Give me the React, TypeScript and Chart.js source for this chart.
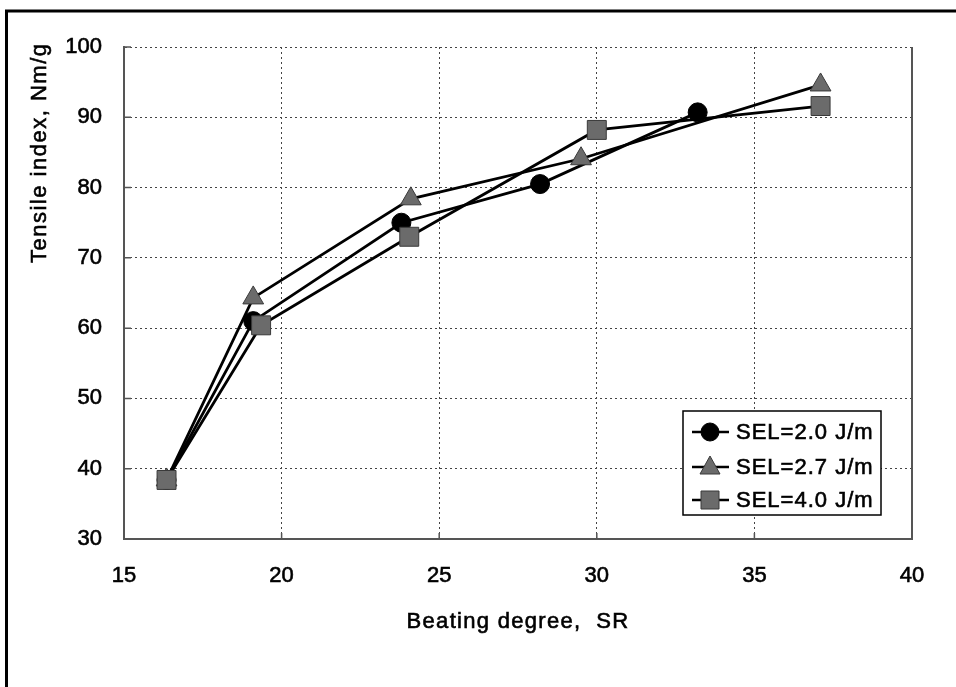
import React, { useEffect, useRef } from "react";
import { Chart, registerables } from "chart.js";

Chart.register(...registerables);

// Beating degree (SR) and tensile index (Nm/g) for three specific edge loads
const SERIES_LABELS = ["SEL=2.0 J/m", "SEL=2.7 J/m", "SEL=4.0 J/m"];
const SR_SEL20 = [16.35, 19.1, 23.8, 28.2, 33.2];
const TI_SEL20 = [38.4, 61.0, 75.0, 80.5, 90.7];
const SR_SEL27 = [16.35, 19.1, 24.1, 29.5, 37.1];
const TI_SEL27 = [38.4, 64.3, 78.4, 84.1, 94.6];
const SR_SEL40 = [16.35, 19.35, 24.05, 30.0, 37.1];
const TI_SEL40 = [38.4, 60.4, 73.0, 88.2, 91.6];

const X_MIN = 15;
const X_MAX = 40;
const X_STEP = 5;
const Y_MIN = 30;
const Y_MAX = 100;
const Y_STEP = 10;

const X_TITLE = "Beating degree,  SR";
const Y_TITLE = "Tensile index, Nm/g";

const FONT = "'Liberation Sans', Arial, sans-serif";
const GRAY = "#6b6b6b";
const GRAY_EDGE = "#3a3a3a";
const AXIS = "#555555";
const TEXT_STROKE = 0.6;

const toPoints = (xs: number[], ys: number[]) => xs.map((x, i) => ({ x, y: ys[i] }));

type MarkerKind = "circle" | "triangle" | "rect";

function drawMarker(ctx: CanvasRenderingContext2D, kind: MarkerKind, x: number, y: number) {
  ctx.save();
  ctx.lineWidth = 1;
  ctx.beginPath();
  if (kind === "circle") {
    ctx.fillStyle = "#000";
    ctx.strokeStyle = "#000";
    ctx.arc(x, y, 9, 0, Math.PI * 2);
  } else if (kind === "triangle") {
    ctx.fillStyle = GRAY;
    ctx.strokeStyle = GRAY_EDGE;
    ctx.moveTo(x, y - 11);
    ctx.lineTo(x + 10, y + 7);
    ctx.lineTo(x - 10, y + 7);
    ctx.closePath();
  } else {
    ctx.fillStyle = GRAY;
    ctx.strokeStyle = GRAY_EDGE;
    ctx.rect(x - 9, y - 9, 18, 18);
  }
  ctx.fill();
  ctx.stroke();
  ctx.restore();
}

function heavyText(ctx: CanvasRenderingContext2D, text: string, x: number, y: number) {
  ctx.lineWidth = TEXT_STROKE;
  ctx.strokeStyle = "#000";
  ctx.strokeText(text, x, y);
  ctx.fillText(text, x, y);
}

const MARKERS: MarkerKind[] = ["circle", "triangle", "rect"];

const decorations = {
  id: "decorations",
  afterDraw(chart: any) {
    const { ctx, chartArea, scales } = chart;
    const { left, right, top, bottom } = chartArea;
    ctx.save();

    // right edge of the plot area
    ctx.strokeStyle = AXIS;
    ctx.lineWidth = 2;
    ctx.beginPath();
    ctx.moveTo(right, top);
    ctx.lineTo(right, bottom);
    ctx.stroke();

    // inward tick marks
    ctx.lineWidth = 1.5;
    ctx.beginPath();
    for (let v = Y_MIN; v <= Y_MAX; v += Y_STEP) {
      const py = scales.y.getPixelForValue(v);
      ctx.moveTo(left, py);
      ctx.lineTo(left + 7, py);
    }
    for (let v = X_MIN; v <= X_MAX; v += X_STEP) {
      const px = scales.x.getPixelForValue(v);
      ctx.moveTo(px, bottom);
      ctx.lineTo(px, bottom - 6);
    }
    ctx.stroke();

    // axis titles
    ctx.fillStyle = "#000";
    ctx.font = `22px ${FONT}`;
    (ctx as any).letterSpacing = "1.3px";
    ctx.textAlign = "center";
    ctx.textBaseline = "alphabetic";
    heavyText(ctx, X_TITLE, (left + right) / 2, 628);

    ctx.save();
    ctx.translate(46, 263);
    ctx.rotate(-Math.PI / 2);
    ctx.textAlign = "left";
    (ctx as any).letterSpacing = "1.5px";
    heavyText(ctx, Y_TITLE, 0, 0);
    ctx.restore();

    // legend box
    const bx = 683, by = 411, bw = 198, bh = 104;
    ctx.fillStyle = "#fff";
    ctx.fillRect(bx, by, bw, bh);
    ctx.strokeStyle = "#000";
    ctx.lineWidth = 1.5;
    ctx.strokeRect(bx, by, bw, bh);
    const rows = [432, 467, 500];
    SERIES_LABELS.forEach((label, i) => {
      const ry = rows[i];
      ctx.strokeStyle = "#000";
      ctx.lineWidth = 2.5;
      ctx.beginPath();
      ctx.moveTo(692, ry);
      ctx.lineTo(729, ry);
      ctx.stroke();
      drawMarker(ctx, MARKERS[i], 710, ry);
      ctx.fillStyle = "#000";
      ctx.font = `22px ${FONT}`;
      (ctx as any).letterSpacing = "1px";
      ctx.textAlign = "left";
      ctx.textBaseline = "middle";
      heavyText(ctx, label, 736, ry + 1);
    });
    (ctx as any).letterSpacing = "0px";

    // outer frame
    ctx.strokeStyle = "#000";
    ctx.lineWidth = 3;
    ctx.beginPath();
    ctx.moveTo(6.5, 700);
    ctx.lineTo(6.5, 11);
    ctx.lineTo(960, 11);
    ctx.stroke();

    ctx.restore();
  },
};

export default function App() {
  const canvasRef = useRef<HTMLCanvasElement | null>(null);

  useEffect(() => {
    const canvas = canvasRef.current;
    if (!canvas) return;
    const common = {
      showLine: true,
      borderColor: "#000",
      borderWidth: 2.8,
      pointBorderWidth: 1,
      pointHoverRadius: 0,
      tension: 0,
    };
    const tickFont = { family: FONT, size: 22 };
    const chart = new Chart(canvas, {
      type: "scatter",
      data: {
        datasets: [
          {
            ...common,
            label: SERIES_LABELS[0],
            data: toPoints(SR_SEL20, TI_SEL20),
            pointStyle: "circle",
            pointRadius: 9.5,
            pointBackgroundColor: "#000",
            pointBorderColor: "#000",
            order: 2,
          },
          {
            ...common,
            label: SERIES_LABELS[1],
            data: toPoints(SR_SEL27, TI_SEL27),
            pointStyle: "triangle",
            pointRadius: 12,
            pointBackgroundColor: GRAY,
            pointBorderColor: GRAY_EDGE,
            order: 1,
          },
          {
            ...common,
            label: SERIES_LABELS[2],
            data: toPoints(SR_SEL40, TI_SEL40),
            pointStyle: "rect",
            pointRadius: 13.4,
            pointBackgroundColor: GRAY,
            pointBorderColor: GRAY_EDGE,
            order: 0,
          },
        ],
      },
      options: {
        responsive: false,
        animation: false,
        events: [],
        layout: { padding: { top: 47, right: 44, left: 0, bottom: 0 } },
        plugins: {
          legend: { display: false },
          tooltip: { enabled: false },
          title: { display: false },
        },
        scales: {
          x: {
            type: "linear",
            min: X_MIN,
            max: X_MAX,
            ticks: {
              stepSize: X_STEP,
              color: "#000",
              padding: 24,
              font: tickFont,
              textStrokeColor: "#000",
              textStrokeWidth: TEXT_STROKE,
            },
            grid: { color: "#444", lineWidth: 1, drawTicks: false },
            border: { display: true, color: AXIS, width: 2, dash: [2, 3] },
            afterFit: (scale: any) => {
              scale.height = 148;
            },
          },
          y: {
            type: "linear",
            min: Y_MIN,
            max: Y_MAX,
            ticks: {
              stepSize: Y_STEP,
              color: "#000",
              padding: 22,
              font: tickFont,
              textStrokeColor: "#000",
              textStrokeWidth: TEXT_STROKE,
            },
            grid: { color: "#444", lineWidth: 1, drawTicks: false },
            border: { display: true, color: AXIS, width: 2, dash: [2, 3] },
            afterFit: (scale: any) => {
              scale.width = 124;
            },
          },
        },
      },
      plugins: [decorations],
    });
    return () => chart.destroy();
  }, []);

  return (
    <div style={{ position: "absolute", left: 0, top: 0, width: 956, height: 687, background: "#fff" }}>
      <canvas ref={canvasRef} width={956} height={687} style={{ display: "block" }} />
    </div>
  );
}
